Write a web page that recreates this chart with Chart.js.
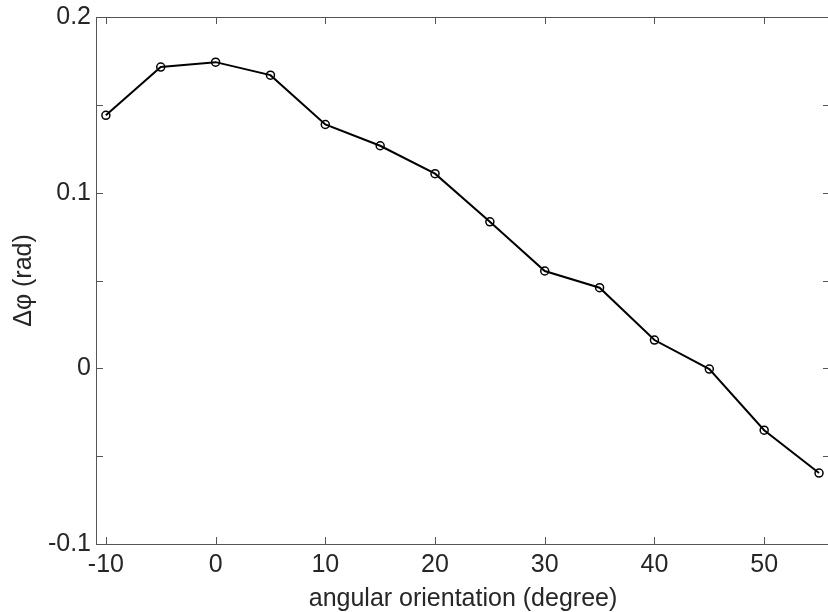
<!DOCTYPE html>
<html>
<head>
<meta charset="utf-8">
<script src="https://cdn.jsdelivr.net/npm/chart.js@4/dist/chart.umd.min.js"></script>
<style>
  html, body { margin: 0; padding: 0; background: #fff; overflow: hidden; }
  #phaseChart { display: block; }
</style>
</head>
<body>
<canvas id="phaseChart" width="840" height="612"></canvas>
<script>
const orientation = [-10, -5, 0, 5, 10, 15, 20, 25, 30, 35, 40, 45, 50, 55];
const deltaPhi = [0.144, 0.1715, 0.1743, 0.1669, 0.1388, 0.1267, 0.1108, 0.0834, 0.0554, 0.0459, 0.0161, -0.0004, -0.0352, -0.0596];

const xTickValues = [-10, 0, 10, 20, 30, 40, 50];
const yTickValues = [-0.1, -0.05, 0, 0.05, 0.1, 0.15, 0.2];
const yTickLabels = ["-0.1", "", "0", "", "0.1", "", "0.2"];

const textColor = "#262626";
const frameColor = "#555";

// boxed axes with inward ticks on all four sides
const boxTicks = {
  id: "boxTicks",
  afterDraw(chart) {
    const { ctx, chartArea: a, scales } = chart;
    const len = 7;
    ctx.save();
    ctx.strokeStyle = frameColor;
    ctx.lineWidth = 1;
    ctx.strokeRect(a.left + 0.5, a.top + 0.5, a.right - a.left, a.bottom - a.top);
    ctx.beginPath();
    xTickValues.forEach((v) => {
      const px = Math.round(scales.x.getPixelForValue(v)) + 0.5;
      ctx.moveTo(px, a.bottom);
      ctx.lineTo(px, a.bottom - len);
      ctx.moveTo(px, a.top);
      ctx.lineTo(px, a.top + len);
    });
    yTickValues.forEach((v) => {
      const py = Math.round(scales.y.getPixelForValue(v)) + 0.5;
      ctx.moveTo(a.left, py);
      ctx.lineTo(a.left + len, py);
      ctx.moveTo(a.right, py);
      ctx.lineTo(a.right - len, py);
    });
    ctx.stroke();
    ctx.restore();
  },
};

document.addEventListener("DOMContentLoaded", () => {
  const ctx = document.getElementById("phaseChart").getContext("2d");
  const phaseChart = new Chart(ctx, {
    type: "scatter",
    data: {
      datasets: [
        {
          data: orientation.map((x, i) => ({ x: x, y: deltaPhi[i] })),
          showLine: true,
          borderColor: "#000",
          borderWidth: 2,
          pointRadius: 4,
          pointBorderWidth: 1.5,
          pointBorderColor: "#000",
          pointBackgroundColor: "rgba(0,0,0,0)",
          pointStyle: "circle",
        },
      ],
    },
    options: {
      responsive: false,
      animation: false,
      layout: { padding: { top: 17, right: 10, left: 0, bottom: 0 } },
      plugins: {
        legend: { display: false },
        tooltip: { enabled: false },
      },
      scales: {
        x: {
          type: "linear",
          min: -10.9,
          max: 56,
          grid: { display: false, drawTicks: false },
          border: { display: false },
          afterBuildTicks: (scale) => {
            scale.ticks = xTickValues.map((v) => ({ value: v }));
          },
          afterFit: (scale) => {
            scale.height = 68;
            scale.paddingLeft = 0;
            scale.paddingRight = 0;
          },
          ticks: {
            autoSkip: false,
            maxRotation: 0,
            padding: 6,
            color: textColor,
            font: { family: "'Liberation Sans', Arial, sans-serif", size: 25 },
            callback: (value) => String(value),
          },
          title: {
            display: true,
            text: "angular orientation (degree)",
            color: textColor,
            padding: { top: 0, bottom: 0 },
            font: { family: "'Liberation Sans', Arial, sans-serif", size: 25, lineHeight: 1 },
          },
        },
        y: {
          type: "linear",
          min: -0.1,
          max: 0.2,
          grid: { display: false, drawTicks: false },
          border: { display: false },
          afterBuildTicks: (scale) => {
            scale.ticks = yTickValues.map((v) => ({ value: v }));
          },
          afterFit: (scale) => {
            scale.width = 96;
            scale.paddingTop = 0;
            scale.paddingBottom = 0;
          },
          ticks: {
            autoSkip: false,
            padding: 5,
            color: textColor,
            font: { family: "'Liberation Sans', Arial, sans-serif", size: 25 },
            callback: (value, index) => yTickLabels[index],
          },
          title: {
            display: true,
            text: "\u0394\u03c6 (rad)",
            color: textColor,
            padding: { top: 12, bottom: 0 },
            font: { family: "'Liberation Sans', Arial, sans-serif", size: 25, lineHeight: 1 },
          },
        },
      },
    },
    plugins: [boxTicks],
  });
});
</script>
</body>
</html>
